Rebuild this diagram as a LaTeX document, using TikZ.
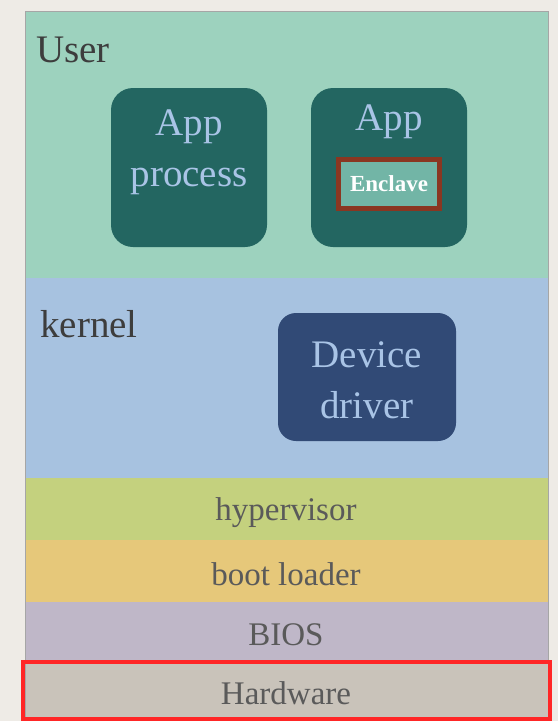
\documentclass[tikz,border=0pt]{standalone}
\usepackage{fontspec}
\setmainfont{Liberation Serif}
\definecolor{paper}{HTML}{EEEBE6}
\definecolor{userc}{HTML}{9DD2BE}
\definecolor{kernc}{HTML}{A7C2E0}
\definecolor{hypc}{HTML}{C4D17E}
\definecolor{bootc}{HTML}{E6C87A}
\definecolor{biosc}{HTML}{BFB7C8}
\definecolor{hwc}{HTML}{C9C3BA}
\definecolor{appc}{HTML}{236661}
\definecolor{drvc}{HTML}{314A76}
\definecolor{boxtext}{HTML}{A9C4E6}
\definecolor{enclc}{HTML}{72B5A6}
\definecolor{enclb}{HTML}{8A3621}
\definecolor{hwred}{HTML}{FF2626}
\definecolor{labc}{HTML}{3D3D3D}
\definecolor{laytext}{HTML}{5A5A5A}
\begin{document}
\begin{tikzpicture}[x=1pt,y=-1pt,
  bigtext/.style={font=\fontsize{39}{48}\selectfont},
  laytxt/.style={font=\fontsize{33}{36}\selectfont,text=laytext},
]
\useasboundingbox (0,0) rectangle (558,721);
\fill[paper] (0,0) rectangle (558,721);
% layers
\fill[userc] (25,11) rectangle (548,278);
\fill[kernc] (25,278) rectangle (548,478);
\fill[hypc] (25,478) rectangle (548,540);
\fill[bootc] (25,540) rectangle (548,602);
\fill[biosc] (25,602) rectangle (548,661);
\fill[hwc] (25,661) rectangle (548,721);
\draw[gray!70,line width=0.8pt] (25,721) -- (25,11) -- (548,11) -- (548,721);
% labels
\node[bigtext,text=labc,anchor=base west,inner sep=0pt] (user) at (36,62) {User};
\node[bigtext,text=labc,anchor=base west,inner sep=0pt] (kernel) at (40,337) {kernel};
% app boxes
\fill[appc,rounded corners=22pt] (111,88) rectangle (267,247);
\node[bigtext,text=boxtext,align=center] (app1) at (189,152) {App\\[3pt]process};
\fill[appc,rounded corners=22pt] (311,88) rectangle (467,247);
\node[bigtext,text=boxtext] (app2) at (389,122) {App};
\node[draw=enclb,line width=5pt,fill=enclc,minimum width=101pt,minimum height=49pt,inner sep=0pt,
  font=\fontsize{23}{24}\selectfont\bfseries,text=white] (encl) at (389,184) {Enclave};
% driver
\fill[drvc,rounded corners=18pt] (278,313) rectangle (456,441);
\node[bigtext,text=boxtext,align=center] (drv) at (367,380) {Device\\[3pt]driver};
% layer texts
\node[laytxt] (hyp) at (286,513) {hypervisor};
\node[laytxt] (boot) at (286,574) {boot loader};
\node[laytxt] (bios) at (286,635) {BIOS};
\node[laytxt] (hw) at (286,693) {Hardware};
\draw[hwred,line width=4pt] (23,662) rectangle (550,719);
\end{tikzpicture}
\end{document}
